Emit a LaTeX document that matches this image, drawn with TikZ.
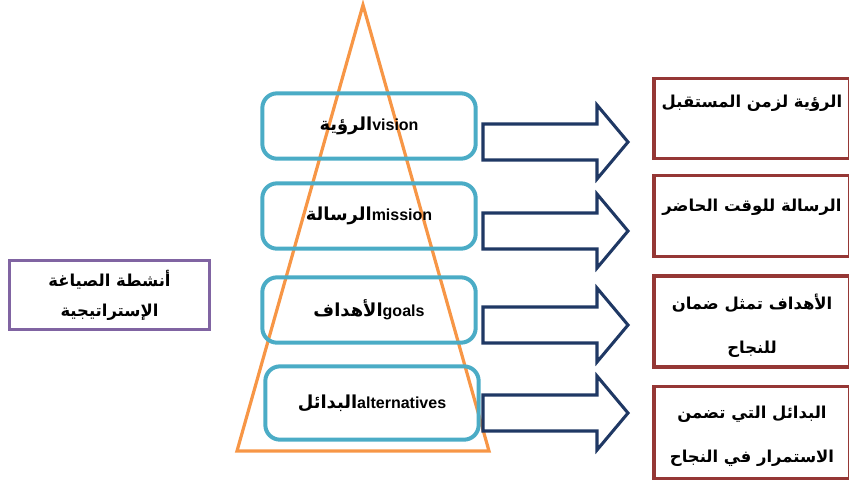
\documentclass[tikz,border=0pt]{standalone}
\usepackage{fontspec}
\setmainfont{Liberation Sans}
\newfontfamily\arabicfont[Script=Arabic, Scale=1.12]{DejaVu Sans}
\TeXXeTstate=1
\usetikzlibrary{positioning}
\definecolor{ftri}{HTML}{F79646}
\definecolor{fblue}{HTML}{4BACC6}
\definecolor{fnavy}{HTML}{1F3864}
\definecolor{fred}{HTML}{953735}
\definecolor{fpurple}{HTML}{8064A2}
\tikzset{
  stage/.style  = {draw=fblue, line width=3pt, rounded corners=11pt,
                   minimum width=160pt, minimum height=49pt, inner sep=0pt,
                   font=\bfseries\fontsize{12}{14}\selectfont},
  result/.style = {draw=fred, line width=2.6pt, minimum width=147pt,
                   inner sep=0pt},
  restext/.style = {align=center, anchor=north, inner sep=0pt,
                    font=\arabicfont\bfseries\fontsize{11}{33}\selectfont},
  topic/.style  = {draw=fpurple, line width=2.4pt, minimum width=150pt,
                   minimum height=52pt, align=center, inner sep=0pt,
                   font=\arabicfont\bfseries\fontsize{11}{22.5}\selectfont},
  bigarrow/.style = {draw=fnavy, fill=white, line width=2.3pt,
                     line join=miter},
}
\newcommand{\ar}[1]{{\arabicfont\beginR #1\endR}}

\begin{document}
\begin{tikzpicture}[x=0.75pt, y=-0.75pt]
\useasboundingbox (0,0) rectangle (849,487);
% ---- pyramid ----
\draw[ftri, line width=2.4pt, line join=miter] (363,5) -- (489,451) -- (237,451) -- cycle;
% ---- stages ----
\node[stage] (vision) at (369,126) {\ar{الرؤية}vision};
\node[stage] (mission) at (369,216) {\ar{الرسالة}mission};
\node[stage] (goals) at (369,310) {\ar{الأهداف}goals};
\node[stage, minimum height=55pt] (alter) at (372,403) {\ar{البدائل}alternatives};
% ---- block arrows ----
\foreach \yc in {142,231,325,413}
  \draw[bigarrow] (483,\yc-18) -- (597,\yc-18) -- (597,\yc-37) -- (628,\yc)
                  -- (597,\yc+37) -- (597,\yc+18) -- (483,\yc+18) -- cycle;
% ---- results ----
\node[result, minimum height=60pt] (res1) at (752,118.5) {};
\node[result, minimum height=61pt] (res2) at (752,216) {};
\node[result, minimum height=68pt] (res3) at (752,321.5) {};
\node[result, minimum height=69pt] (res4) at (752,432.5) {};
\node[restext] (txt1) at (752,95) {\beginR الرؤية لزمن المستقبل\endR};
\node[restext] (txt2) at (752,199) {\beginR الرسالة للوقت الحاضر\endR};
\node[restext] (txt3) at (752,294) {\beginR الأهداف تمثل ضمان\endR\\\beginR للنجاح\endR};
\node[restext] (txt4) at (752,406) {\beginR البدائل التي تضمن\endR\\\beginR الاستمرار في النجاح\endR};
% ---- activity ----
\node[topic] (act) at (109.5,295) {\beginR أنشطة الصياغة\endR\\\beginR الإستراتيجية\endR};
\end{tikzpicture}
\end{document}
